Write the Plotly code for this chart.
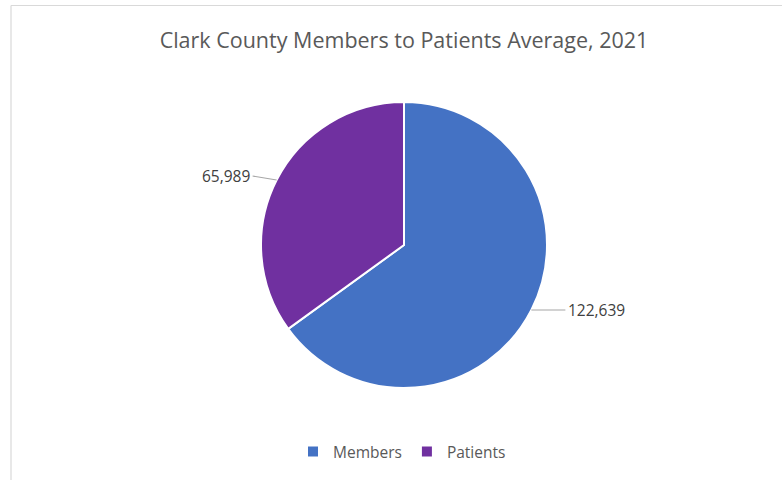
import math
import plotly.graph_objects as go

categories = ["Members", "Patients"]
values = [122639, 65989]
colors = ["#4472C4", "#7030A0"]
title_text = "Clark County Members to Patients Average, 2021"

W, H = 782, 480
cx, cy, r = 404, 245, 143  # pie centre and radius in pixels
FONT = "Open Sans"
GREY = "#595959"

fig = go.Figure(go.Pie(
    labels=categories,
    values=values,
    marker=dict(colors=colors, line=dict(color="white", width=2)),
    sort=False,
    direction="clockwise",
    rotation=0,
    textinfo="none",
    hoverinfo="label+value",
    domain=dict(x=[(cx - r) / W, (cx + r) / W], y=[1 - (cy + r) / H, 1 - (cy - r) / H]),
))

total = sum(values)
cum = 0
offsets = [(34, 0, "left"), (-24, -4, "right")]
for v, (ax, ay, anchor) in zip(values, offsets):
    theta = 2 * math.pi * (cum + v / 2) / total
    cum += v
    px = cx + r * math.sin(theta)
    py = cy - r * math.cos(theta)
    fig.add_annotation(
        x=px / W, y=1 - py / H, xref="paper", yref="paper",
        text=f"{v:,}", showarrow=True, arrowhead=0, arrowwidth=1.2,
        arrowcolor="#A6A6A6", ax=ax, ay=ay, xanchor=anchor, yanchor="middle",
        font=dict(family=FONT, size=15.5, color="#404040"), borderpad=2,
    )

fig.add_shape(type="line", xref="paper", yref="paper", x0=11 / W, x1=1.01, y0=1 - 5.5 / H, y1=1 - 5.5 / H,
              line=dict(color="#D9D9D9", width=1.2))
fig.add_shape(type="line", xref="paper", yref="paper", x0=11 / W, x1=11 / W, y0=-0.01, y1=1 - 5.5 / H,
              line=dict(color="#D9D9D9", width=1.2))

fig.update_layout(
    width=W, height=H,
    margin=dict(l=0, r=0, t=0, b=0),
    paper_bgcolor="white",
    title=dict(text=title_text, x=404 / W, xanchor="center", y=1 - 40 / H, yanchor="middle",
               font=dict(family=FONT, size=21.5, color=GREY)),
    showlegend=True,
    legend=dict(orientation="h", x=402 / W, xanchor="center", y=1 - 452 / H, yanchor="middle",
                font=dict(family=FONT, size=15.5, color=GREY), itemwidth=30),
)

fig.write_html("out.html", config={"displayModeBar": False},
               post_script="document.body.style.margin='0';document.body.style.overflow='hidden';")
